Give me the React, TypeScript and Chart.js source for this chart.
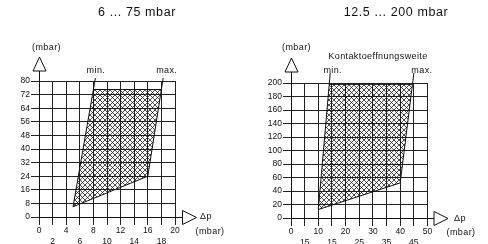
import React, { useEffect, useRef } from "react";
import { Chart, registerables } from "chart.js";
Chart.register(...registerables);

const FONT = "'Liberation Sans', Arial, sans-serif";

// ---- Left chart data ----
const leftTitle = "6 ... 75 mbar";
const leftXValues = [0, 2, 4, 6, 8, 10, 12, 14, 16, 18, 20];
const leftXLabels = ["0", "2", "4", "6", "8", "10", "12", "14", "16", "18", "20"];
const leftYValues = [0, 8, 16, 24, 32, 40, 48, 56, 64, 72, 80];
const leftYLabels = ["0", "8", "16", "24", "32", "40", "48", "56", "64", "72", "80"];
const leftRangeX = [5, 16, 18, 8];
const leftRangeY = [6, 24, 75, 75];

// ---- Right chart data ----
const rightTitle = "12.5 ... 200 mbar";
const rightXValues = [0, 5, 10, 15, 20, 25, 30, 35, 40, 45, 50];
const rightXLabels = ["0", "15", "10", "15", "20", "25", "30", "35", "40", "45", "50"];
const rightYValues = [0, 20, 40, 60, 80, 100, 120, 140, 160, 180, 200];
const rightYLabels = ["0", "20", "40", "60", "80", "100", "120", "140", "160", "180", "200"];
const rightRangeX = [10, 40, 44.5, 14];
const rightRangeY = [12.5, 52, 198, 198];

// ---- Texts ----
const yAxisLabel = "(mbar)";
const xAxisLabel = "Δp";
const xUnitLabel = "(mbar)";
const minLabel = "min.";
const maxLabel = "max.";
const rightCaption = "Kontaktoeffnungsweite";

type Spec = {
  title: string;
  xValues: number[];
  xLabels: string[];
  yValues: number[];
  yLabels: string[];
  rangeX: number[];
  rangeY: number[];
  caption?: string;
  layout: {
    left: number; right: number; top: number; bottom: number;
    titleX: number; yLabelDx: number; yArrowTop: number; yArrowBase: number;
    xArrowStart: number; dpX: number; dpDy: number; unitX: number; unitY: number;
    pointerTop: number; minDx: number; maxDx: number; captionX?: number; captionY?: number;
  };
};

function makeHatch(): CanvasPattern | string {
  const s = 5;
  const c = document.createElement("canvas");
  c.width = s;
  c.height = s;
  const g = c.getContext("2d");
  if (!g) return "rgba(0,0,0,0.3)";
  g.strokeStyle = "#111";
  g.lineWidth = 0.75;
  g.beginPath();
  for (const o of [-s, 0, s]) {
    g.moveTo(o - 1, -1);
    g.lineTo(o + s + 1, s + 1);
    g.moveTo(o + s + 1, -1);
    g.lineTo(o - 1, s + 1);
  }
  g.stroke();
  return g.createPattern(c, "repeat") || "rgba(0,0,0,0.3)";
}

function makeDeco(spec: Spec) {
  const L = spec.layout;
  return {
    id: "deco",
    afterDraw(chart: any) {
      const { ctx, chartArea: a } = chart;
      const xs = chart.scales.x;
      const ys = chart.scales.y;
      ctx.save();
      ctx.fillStyle = "#111";
      ctx.strokeStyle = "#111";
      ctx.lineWidth = 1;
      ctx.textAlign = "center";
      ctx.textBaseline = "middle";

      // title
      ctx.font = `12.5px ${FONT}`;
      (ctx as any).letterSpacing = "0.6px";
      ctx.fillText(spec.title, L.titleX, 13);
      (ctx as any).letterSpacing = "0px";

      // y axis arrow
      const ax = Math.round(xs.getPixelForValue(0)) + 0.5;
      ctx.beginPath();
      ctx.moveTo(ax, a.top);
      ctx.lineTo(ax, L.yArrowBase);
      ctx.stroke();
      ctx.beginPath();
      ctx.moveTo(ax, L.yArrowTop);
      ctx.lineTo(ax - 6.5, L.yArrowBase);
      ctx.lineTo(ax + 6.5, L.yArrowBase);
      ctx.closePath();
      ctx.fillStyle = "#fff";
      ctx.fill();
      ctx.stroke();
      ctx.fillStyle = "#111";
      ctx.font = `9px ${FONT}`;
      (ctx as any).letterSpacing = "0.4px";
      ctx.fillText(yAxisLabel, ax + L.yLabelDx, 48);

      // x axis arrow
      const by = Math.round(ys.getPixelForValue(0)) + 0.5;
      ctx.beginPath();
      ctx.moveTo(a.right, by);
      ctx.lineTo(L.xArrowStart, by);
      ctx.stroke();
      ctx.beginPath();
      ctx.moveTo(L.xArrowStart, by - 7);
      ctx.lineTo(L.xArrowStart + 14, by);
      ctx.lineTo(L.xArrowStart, by + 7);
      ctx.closePath();
      ctx.fillStyle = "#fff";
      ctx.fill();
      ctx.stroke();
      ctx.fillStyle = "#111";
      ctx.fillText(xAxisLabel, L.dpX, by + L.dpDy);
      ctx.fillText(xUnitLabel, L.unitX, L.unitY);

      // min / max pointers
      const px = (i: number) => xs.getPixelForValue(spec.rangeX[i]);
      const py = (i: number) => ys.getPixelForValue(spec.rangeY[i]);
      const ext = (top: number, bot: number) => {
        const tx = px(top), ty = py(top), bx = px(bot), bY = py(bot);
        const ex = tx + (tx - bx) * (L.pointerTop - ty) / (ty - bY);
        ctx.beginPath();
        ctx.moveTo(tx, ty);
        ctx.lineTo(ex, L.pointerTop);
        ctx.stroke();
        return ex;
      };
      const minX = ext(3, 0);
      const maxX = ext(2, 1);
      ctx.fillText(minLabel, minX + L.minDx, 71);
      ctx.fillText(maxLabel, maxX + L.maxDx, 71);

      if (spec.caption) {
        ctx.fillText(spec.caption, L.captionX || 0, L.captionY || 0);
      }
      ctx.restore();
    },
  };
}

function buildChart(canvas: HTMLCanvasElement, spec: Spec) {
  const L = spec.layout;
  const pts = spec.rangeX.map((x, i) => ({ x, y: spec.rangeY[i] }));
  pts.push({ ...pts[0] });
  const tickFont = { family: FONT, size: 8.5 };
  return new Chart(canvas, {
    type: "line",
    data: {
      datasets: [
        {
          data: pts,
          borderColor: "#111",
          borderWidth: 1,
          backgroundColor: makeHatch() as any,
          fill: "shape",
          pointRadius: 0,
          tension: 0,
        },
      ],
    },
    options: {
      animation: false,
      responsive: false,
      devicePixelRatio: 1,
      layout: { padding: { left: 0, top: L.top, right: 244 - L.right, bottom: 0 } },
      plugins: { legend: { display: false }, tooltip: { enabled: false }, title: { display: false } },
      scales: {
        x: {
          type: "linear",
          min: spec.xValues[0],
          max: spec.xValues[spec.xValues.length - 1],
          afterBuildTicks: (s: any) => {
            s.ticks = spec.xValues.map((v) => ({ value: v }));
          },
          afterFit: (s: any) => {
            s.height = 244 - L.bottom;
          },
          grid: { color: "#222", lineWidth: 1, tickLength: 8, drawTicks: true },
          border: { display: true, color: "#111", width: 1 },
          ticks: {
            color: "#111",
            font: tickFont,
            padding: 1,
            maxRotation: 0,
            autoSkip: false,
            callback: (_v: any, i: number) =>
              i % 2 === 0 ? [spec.xLabels[i], ""] : ["", spec.xLabels[i]],
          },
        },
        y: {
          type: "linear",
          min: spec.yValues[0],
          max: spec.yValues[spec.yValues.length - 1],
          afterBuildTicks: (s: any) => {
            s.ticks = spec.yValues.map((v) => ({ value: v }));
          },
          afterFit: (s: any) => {
            s.width = L.left;
          },
          grid: { color: "#222", lineWidth: 1, tickLength: 8, drawTicks: true },
          border: { display: true, color: "#111", width: 1 },
          ticks: {
            color: "#111",
            font: tickFont,
            padding: 1,
            autoSkip: false,
            callback: (_v: any, i: number) => spec.yLabels[i],
          },
        },
      },
    },
    plugins: [makeDeco(spec) as any],
  });
}

const leftSpec: Spec = {
  title: leftTitle,
  xValues: leftXValues,
  xLabels: leftXLabels,
  yValues: leftYValues,
  yLabels: leftYLabels,
  rangeX: leftRangeX,
  rangeY: leftRangeY,
  layout: {
    left: 39, right: 175, top: 81, bottom: 217,
    titleX: 137, yLabelDx: 7, yArrowTop: 57, yArrowBase: 71,
    xArrowStart: 182.5, dpX: 206, dpDy: -1, unitX: 210, unitY: 232,
    pointerTop: 78, minDx: 0.5, maxDx: 3.5,
  },
};

const rightSpec: Spec = {
  title: rightTitle,
  xValues: rightXValues,
  xLabels: rightXLabels,
  yValues: rightYValues,
  yLabels: rightYLabels,
  rangeX: rightRangeX,
  rangeY: rightRangeY,
  caption: rightCaption,
  layout: {
    left: 47, right: 183.5, top: 83, bottom: 218,
    titleX: 152, yLabelDx: 5, yArrowTop: 58, yArrowBase: 72,
    xArrowStart: 190, dpX: 216, dpDy: 0, unitX: 217, unitY: 233,
    pointerTop: 73, minDx: 2.5, maxDx: 8, captionX: 134, captionY: 57,
  },
};

function ChartBox({ spec }: { spec: Spec }) {
  const ref = useRef<HTMLCanvasElement>(null);
  useEffect(() => {
    if (!ref.current) return;
    const c = buildChart(ref.current, spec);
    return () => c.destroy();
  }, [spec]);
  return <canvas ref={ref} width={244} height={244} style={{ display: "block", width: 244, height: 244 }} />;
}

export default function App() {
  return (
    <div style={{ position: "fixed", left: 0, top: 0, width: 488, height: 244, display: "flex", background: "#fff" }}>
      <ChartBox spec={leftSpec} />
      <ChartBox spec={rightSpec} />
    </div>
  );
}
